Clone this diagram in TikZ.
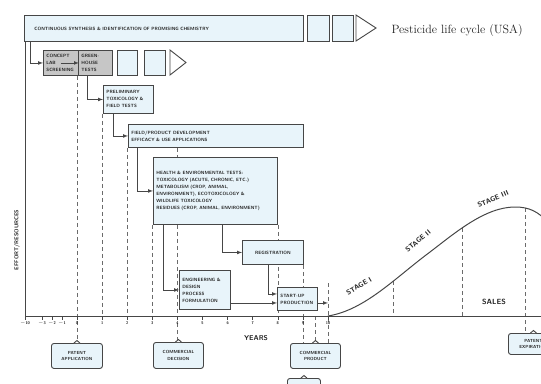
\documentclass[tikz,border=0pt]{standalone}
\usepackage{amsmath}
\usepackage{tikz}
\usetikzlibrary{calc}
\pgfdeclarelayer{background}
\pgfsetlayers{background,main}
\definecolor{palebox}{RGB}{232,244,250}
\definecolor{boxline}{RGB}{70,70,70}
\definecolor{inkgray}{RGB}{35,35,35}

\begin{document}
\begin{tikzpicture}[x=1pt,y=1pt,yscale=-1,xscale=1,
	lcbox/.style={draw=boxline,fill=palebox,line width=0.9pt,anchor=north west,inner xsep=3pt,inner ysep=2pt,align=left,
		font=\fontsize{4.6}{7}\sffamily\bfseries,text=inkgray},
	darkbox/.style={lcbox,fill=gray!45},
	msbox/.style={lcbox,rounded corners=2.5pt,align=center,font=\fontsize{4.4}{6.5}\sffamily\bfseries},
	feed/.style={-latex,line width=0.7pt,boxline},
	yearline/.style={boxline!80,line width=0.5pt,dash pattern=on 4pt off 3pt},
	stagelbl/.style={font=\fontsize{7}{7}\sffamily\bfseries,text=inkgray,inner sep=0.5pt},
	yearnum/.style={font=\fontsize{4}{4}\sffamily\bfseries,text=inkgray,inner sep=0.5pt}
	]
	\useasboundingbox (0,0) rectangle (541,383);
	
	%Shape: Rectangle (top banner and its tail)
	\node[lcbox,text width=259pt,inner xsep=10pt,minimum height=26pt] (banner) at (24,15) {CONTINUOUS SYNTHESIS \& IDENTIFICATION OF PROMISING CHEMISTRY};
	\node[lcbox,minimum width=22pt,minimum height=26pt] (bsq1) at (307,15) {};
	\node[lcbox,minimum width=21pt,minimum height=26pt] (bsq2) at (332,15) {};
	%Shape: Triangle
	\draw[boxline,line width=0.9pt,fill=white] (356,15) -- (376,28) -- (356,41) -- cycle;
	% Text Node
	\node[anchor=west,font=\fontsize{12}{14}\selectfont,text=inkgray] (title) at (388,31) {Pesticide life cycle (USA)};
	
	%Shape: Rectangle (discovery row)
	\node[darkbox,text width=29pt,minimum height=25pt] (concept) at (43,50) {CONCEPT\\LAB\\SCREENING};
	\node[darkbox,text width=28pt,minimum height=25pt] (screen) at (78,50) {GREEN-\\HOUSE\\TESTS};
	\node[lcbox,minimum width=20pt,minimum height=25pt] (rsq1) at (117,50) {};
	\node[lcbox,minimum width=21pt,minimum height=25pt] (rsq2) at (144,50) {};
	%Shape: Triangle
	\draw[boxline,line width=0.9pt,fill=white] (170,50) -- (186,62.5) -- (170,75) -- cycle;
	
	%Shape: Rectangle (development stages)
	\node[lcbox,text width=44pt,minimum height=28pt] (tox) at (103,85) {PRELIMINARY\\TOXICOLOGY \&\\FIELD TESTS};
	\node[lcbox,text width=169pt,minimum height=23pt] (develop) at (128,124) {FIELD/PRODUCT DEVELOPMENT\\EFFICACY \& USE APPLICATIONS};
	\node[lcbox,text width=118pt,minimum height=67pt] (health) at (153,157) {HEALTH \& ENVIRONMENTAL TESTS:\\TOXICOLOGY (ACUTE, CHRONIC, ETC.)\\METABOLISM (CROP, ANIMAL,\\ENVIRONMENT), ECOTOXICOLOGY \&\\WILDLIFE TOXICOLOGY\\RESIDUES (CROP, ANIMAL, ENVIRONMENT)};
	\node[lcbox,text width=55pt,minimum height=24pt,align=center] (regist) at (242,240) {REGISTRATION};
	\node[lcbox,text width=45pt,minimum height=39pt] (formul) at (179,270) {ENGINEERING \&\\DESIGN\\PROCESS\\FORMULATION};
	\node[lcbox,text width=34pt,minimum height=23pt] (startup) at (277,287) {START-UP\\PRODUCTION};
	
	%Shape: Rectangle (milestones under the axis)
	\node[msbox,text width=45pt,minimum height=25pt] (patent) at (51,343) {PATENT\\APPLICATION};
	\node[msbox,text width=44pt,minimum height=26pt] (decide) at (153,342) {COMMERCIAL\\DECISION};
	\node[msbox,text width=44pt,minimum height=25pt] (product) at (290,343) {COMMERCIAL\\PRODUCT};
	\node[msbox,text width=44pt,minimum height=21pt] (expire) at (508,333) {PATENT\\EXPIRATION};
	\node[msbox,minimum width=33pt,minimum height=20pt] (stub) at (287,378) {};
	\foreach \m in {patent,decide,product,expire,stub}
		\draw[boxline,line width=0.9pt,fill=white] ($(\m.north)+(-3,0)$) -- ($(\m.north)+(0,-2.5)$) -- ($(\m.north)+(3,0)$);
	
	%Straight Lines (axes and year ticks)
	\coordinate (origin) at (25,316);
	\coordinate (xend) at (541,316);
	\draw[boxline,line width=0.9pt] (banner.south west -| origin) -- (origin) -- (xend);
	\foreach \k in {0,...,10} {
		\coordinate (t\k) at ({77+25.1*\k},316);
		\draw[boxline,line width=0.6pt] (t\k) -- ++(0,4);
		\node[yearnum] (yr\k) at ($(t\k)+(0,7)$) {\k};
	}
	\foreach \x/\lbl [count=\i] in {25/$-$10,42/$-$3,52/$-$2,62/$-$1} {
		\draw[boxline,line width=0.6pt] (\x,316) -- (\x,320);
		\node[yearnum] (pre\i) at (\x,323) {\lbl};
	}
	
	% Text Node
	\node[stagelbl,rotate=90,font=\fontsize{5.6}{6}\sffamily\bfseries] (ylbl) at (17,240) {EFFORT/RESOURCES};
	\node[stagelbl] (years) at (256,338) {YEARS};
	
	%Curve Lines (sales)
	\coordinate (s1) at (393,281);
	\coordinate (s2) at (462,228);
	\coordinate (s3) at (525,208);
	\draw[boxline,line width=1pt] (t10) .. controls (365,310) and (395,278) .. (430,252)
		.. controls (455,233) and (485,207) .. (515,207) .. controls (530,207) and (538,212) .. (548,222);
	\node[stagelbl,rotate=31] (stg1) at (359,286) {STAGE I};
	\node[stagelbl,rotate=40] (stg2) at (418,241) {STAGE II};
	\node[stagelbl,rotate=24] (stg3) at (493,199) {STAGE III};
	\node[stagelbl,font=\fontsize{7.5}{8}\sffamily\bfseries] (sales) at (494,302) {SALES};
	
	%Straight Lines (hand-over arrows)
	\coordinate (in1) at ($(startup.west)+(0,-5)$);
	\coordinate (in2) at ($(startup.west)+(0,4)$);
	\draw[feed] ([xshift=6pt]banner.south west) |- (concept.west);
	\draw[feed] (concept.center) -- (concept.east);
	\draw[feed] ([xshift=9pt]screen.south west) |- (tox.west);
	\draw[feed] ([xshift=10pt]tox.south west) |- (develop.west);
	\draw[feed] ([xshift=9pt]develop.south west) |- (health.west);
	\draw[feed] ([xshift=69pt]health.south west) |- (regist.west);
	\draw[feed] ([xshift=10pt]health.south west) |- (formul.west);
	\draw[feed] ([xshift=26pt]regist.south west) |- (in1);
	\draw[feed] (formul.east |- in2) -- (in2);
	\draw[feed] (startup.east |- in2) -- (t10 |- in2);
	
	%Dashed Lines (milestone years)
	\begin{pgfonlayer}{background}
		\draw[yearline] (screen.south -| t0) -- (t0 |- patent.north);
		\draw[yearline] (tox.south -| t1) -- (t1);
		\draw[yearline] (develop.south -| t2) -- (t2);
		\draw[yearline] (health.south -| t3) -- (t3);
		\draw[yearline] (develop.south -| t4) -- (t4 |- decide.north);
		\draw[yearline] (health.south -| t8) -- (t8);
		\draw[yearline] (regist.south -| t9) -- (t9 |- product.north);
		\draw[yearline] (t0 -| product.north) -- (product.north);
		\draw[yearline] ($(t10)+(0,-33)$) -- (t10 |- product.north);
		\draw[yearline] (s1) -- (s1 |- t0);
		\draw[yearline] (s2) -- (s2 |- t0);
		\draw[yearline] (s3) -- (s3 |- expire.north);
	\end{pgfonlayer}
	
\end{tikzpicture}
\end{document}
